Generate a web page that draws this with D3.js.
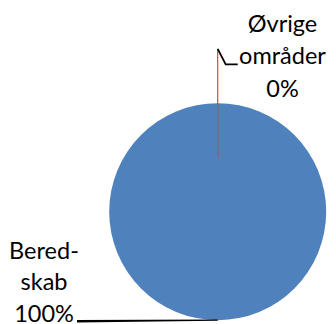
<!DOCTYPE html>
<html>
<head>
<meta charset="utf-8">
<script src="https://cdn.jsdelivr.net/npm/d3@7"></script>
<style>
  html, body { margin: 0; padding: 0; background: #fff; }
  svg { display: block; }
  text { font-family: Lato, "Open Sans", sans-serif; fill: #000; }
</style>
</head>
<body>
<svg id="chart" width="336" height="324"></svg>
<script>
// Share of spending by area
const categories = ["Beredskab", "Øvrige områder"];
const values = [100, 0];
const labelLines = [["Bered-", "skab", "100%"], ["Øvrige", "områder", "0%"]];
const colors = ["#4F81BD", "#C0504D"];

const W = 336, H = 324;
const cx = 217.7, cy = 211.7, r = 108.5;

const svg = d3.select("#chart");
const g = svg.append("g").attr("transform", `translate(${cx},${cy})`);

const pie = d3.pie().sort(null).value(d => d)(values);
const arc = d3.arc().innerRadius(0).outerRadius(r);
const pt = (a, rad) => [Math.sin(a) * rad, -Math.cos(a) * rad];

g.selectAll("path.slice")
  .data(pie)
  .join("path")
  .attr("class", "slice")
  .attr("d", arc)
  .attr("fill", (d, i) => colors[i]);

// Zero-size slice: its edge line, drawn in the slice colour
pie.forEach((d, i) => {
  if (d.endAngle - d.startAngle === 0) {
    const a = d.startAngle;
    const p0 = pt(a, r * 0.5), p1 = pt(a, r * 1.5);
    g.append("line")
      .attr("x1", p0[0]).attr("y1", p0[1])
      .attr("x2", p1[0]).attr("y2", p1[1])
      .attr("stroke", colors[i]).attr("stroke-width", 1.2);
  }
});

// Label for the zero slice, upper right
{
  const d = pie[1];
  const a = (d.startAngle + d.endAngle) / 2;
  const p = pt(a, r * 1.5);
  g.append("polyline")
    .attr("points", [[p[0], p[1]], [p[0] + 8, p[1] + 15.5], [p[0] + 20, p[1] + 15.5]].map(q => q.join(",")).join(" "))
    .attr("fill", "none").attr("stroke", "#000").attr("stroke-width", 1.8);
  const t = svg.append("text").attr("text-anchor", "middle").attr("font-size", 23.5);
  labelLines[1].forEach((s, j) => {
    t.append("tspan").attr("x", 282.5).attr("y", 31.7 + j * 32.5).text(s);
  });
}

// Label for the full slice, lower left
{
  const d = pie[0];
  const a = (d.startAngle + d.endAngle) / 2;
  const p = pt(a, r);
  g.append("path")
    .attr("d", `M${p[0]},${p[1] - 0.6} L${77 - cx},${320 - cy} L${77 - cx},${322.4 - cy} L${p[0]},${p[1] + 0.6} Z`)
    .attr("fill", "#000");
  const t = svg.append("text").attr("text-anchor", "middle").attr("font-size", 23.5);
  labelLines[0].forEach((s, j) => {
    t.append("tspan").attr("x", 44).attr("y", 258.5 + j * 31.5).text(s);
  });
}
</script>
</body>
</html>
